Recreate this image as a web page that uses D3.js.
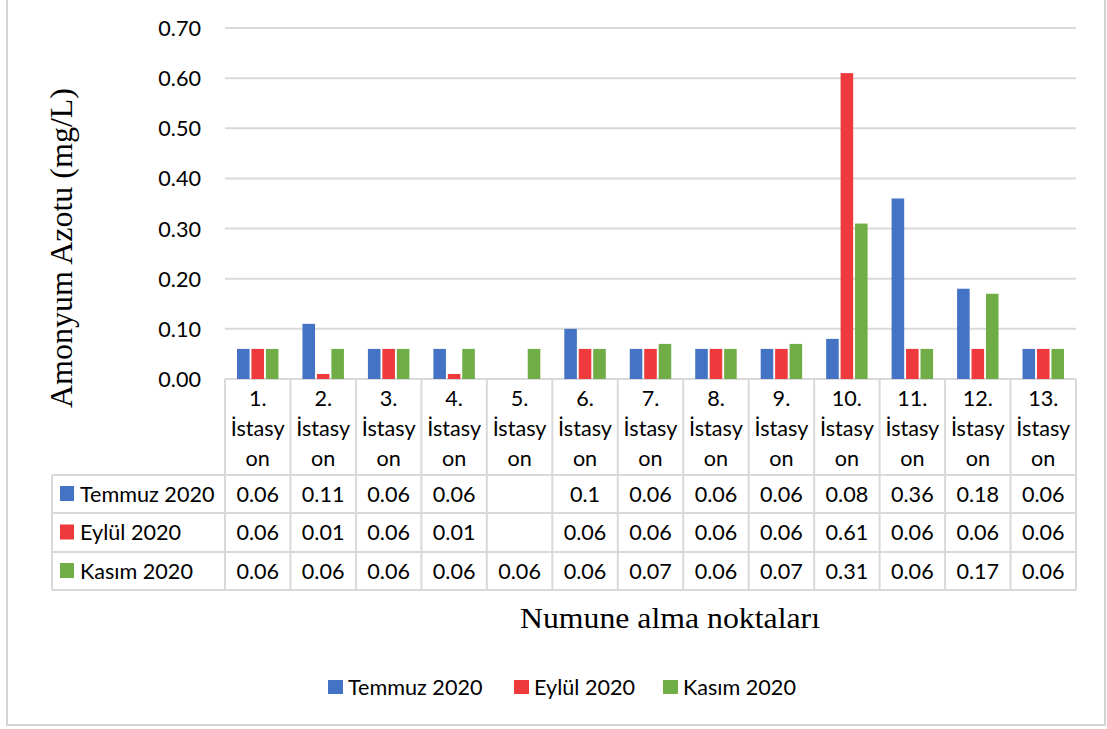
<!DOCTYPE html>
<html>
<head>
<meta charset="utf-8">
<script src="https://cdn.jsdelivr.net/npm/d3@7"></script>
<style>
  html, body { margin: 0; padding: 0; background: #fff; }
  svg { display: block; }
</style>
</head>
<body>
<svg id="chart" width="1107" height="729"></svg>
<script>
// Station names (category axis)
const stations = ["1.", "2.", "3.", "4.", "5.", "6.", "7.", "8.", "9.", "10.", "11.", "12.", "13."];
const stationWord = ["İstasy", "on"];

// Series
const seriesNames = ["Temmuz 2020", "Eylül 2020", "Kasım 2020"];
const temmuz = [0.06, 0.11, 0.06, 0.06, null, 0.1, 0.06, 0.06, 0.06, 0.08, 0.36, 0.18, 0.06];
const eylul  = [0.06, 0.01, 0.06, 0.01, null, 0.06, 0.06, 0.06, 0.06, 0.61, 0.06, 0.06, 0.06];
const kasim  = [0.06, 0.06, 0.06, 0.06, 0.06, 0.06, 0.07, 0.06, 0.07, 0.31, 0.06, 0.17, 0.06];
const seriesColors = ["#4472C4", "#EE3A3C", "#70AD47"];

// Value axis ticks
const yTicks = [0, 0.1, 0.2, 0.3, 0.4, 0.5, 0.6, 0.7];

const series = [temmuz, eylul, kasim];

const svg = d3.select("#chart");
const sansFont = "Lato, 'Open Sans', sans-serif";
const serifFont = "'Liberation Serif', 'DejaVu Serif', serif";
const fs = 21.6;

// Outer frame
svg.append("rect")
  .attr("x", 7).attr("y", -2).attr("width", 1098).attr("height", 727)
  .attr("fill", "#fff").attr("stroke", "#d4d4d4").attr("stroke-width", 2);

const plotLeft = 225, plotRight = 1076, plotTop = 28, plotBottom = 379;

const x0 = d3.scaleBand().domain(d3.range(stations.length))
  .range([plotLeft, plotRight]).paddingInner(0).paddingOuter(0);
const x1 = d3.scaleBand().domain(d3.range(seriesNames.length))
  .range([12, x0.bandwidth() - 12]).paddingInner(0.13);
const y = d3.scaleLinear().domain([0, 0.7]).range([plotBottom, plotTop]);

// Gridlines
svg.append("g").selectAll("line").data(yTicks).join("line")
  .attr("x1", plotLeft).attr("x2", plotRight)
  .attr("y1", d => y(d)).attr("y2", d => y(d))
  .attr("stroke", "#d9d9d9").attr("stroke-width", 2);

// Y axis labels
const yAxis = d3.axisLeft(y).tickValues(yTicks).tickFormat(d3.format(".2f")).tickSize(0).tickPadding(0);
const yg = svg.append("g").attr("transform", `translate(201,0)`).call(yAxis);
yg.select(".domain").remove();
yg.selectAll("text")
  .attr("font-family", sansFont).attr("font-size", fs).attr("fill", "#000")
  .attr("dy", "0.35em");

// Bars
const groups = svg.append("g").selectAll("g").data(stations).join("g")
  .attr("transform", (d, i) => `translate(${x0(i)},0)`);
groups.selectAll("rect")
  .data((d, i) => series.map((s, k) => ({ k, v: s[i] })).filter(o => o.v !== null))
  .join("rect")
  .attr("x", o => x1(o.k))
  .attr("width", x1.bandwidth())
  .attr("y", o => y(o.v))
  .attr("height", o => y(0) - y(o.v))
  .attr("fill", o => seriesColors[o.k]);

// Data table
const rowLines = [475, 513, 552, 590];
const tableLeft = 52;
const grid = svg.append("g").attr("stroke", "#d9d9d9").attr("stroke-width", 2);
rowLines.forEach(yy => {
  grid.append("line").attr("x1", tableLeft).attr("x2", plotRight).attr("y1", yy).attr("y2", yy);
});
d3.range(stations.length + 1).forEach(i => {
  const xx = i < stations.length ? x0(i) : plotRight;
  grid.append("line").attr("x1", xx).attr("x2", xx).attr("y1", plotBottom).attr("y2", rowLines[3]);
});
grid.append("line").attr("x1", tableLeft).attr("x2", tableLeft).attr("y1", rowLines[0]).attr("y2", rowLines[3]);

// Category header text
const header = svg.append("g").attr("font-family", sansFont).attr("font-size", fs)
  .attr("fill", "#000").attr("text-anchor", "middle");
stations.forEach((s, i) => {
  const cx = x0(i) + x0.bandwidth() / 2;
  [s, stationWord[0], stationWord[1]].forEach((t, j) => {
    header.append("text").attr("x", cx).attr("y", 398 + j * 30).attr("dy", "0.35em").text(t);
  });
});

// Table rows: legend key + values
const fmt = v => v === null ? "" : String(v);
series.forEach((s, k) => {
  const cy = (rowLines[k] + rowLines[k + 1]) / 2;
  svg.append("rect").attr("x", 60).attr("y", cy - 8).attr("width", 14).attr("height", 15)
    .attr("fill", seriesColors[k]);
  svg.append("text").attr("x", 80).attr("y", cy).attr("dy", "0.35em")
    .attr("font-family", sansFont).attr("font-size", fs).attr("fill", "#000")
    .text(seriesNames[k]);
  svg.append("g").selectAll("text").data(s).join("text")
    .attr("x", (d, i) => x0(i) + x0.bandwidth() / 2)
    .attr("y", cy).attr("dy", "0.35em").attr("text-anchor", "middle")
    .attr("font-family", sansFont).attr("font-size", fs).attr("fill", "#000")
    .text(fmt);
});

// Axis titles
svg.append("text")
  .attr("transform", "translate(72,248) rotate(-90)")
  .attr("text-anchor", "middle")
  .attr("font-family", serifFont).attr("font-size", 31.5).attr("fill", "#000")
  .attr("textLength", 320).attr("lengthAdjust", "spacingAndGlyphs")
  .text("Amonyum Azotu (mg/L)");
svg.append("text")
  .attr("x", 670).attr("y", 628)
  .attr("text-anchor", "middle")
  .attr("font-family", serifFont).attr("font-size", 29).attr("fill", "#000")
  .attr("textLength", 300).attr("lengthAdjust", "spacingAndGlyphs")
  .text("Numune alma noktaları");

// Legend
const legendX = [328, 514, 663];
const legend = svg.append("g");
seriesNames.forEach((n, k) => {
  legend.append("rect").attr("x", legendX[k]).attr("y", 680).attr("width", 15).attr("height", 14)
    .attr("fill", seriesColors[k]);
  legend.append("text").attr("x", legendX[k] + 20).attr("y", 687).attr("dy", "0.35em")
    .attr("font-family", sansFont).attr("font-size", fs).attr("fill", "#000").text(n);
});
</script>
</body>
</html>
